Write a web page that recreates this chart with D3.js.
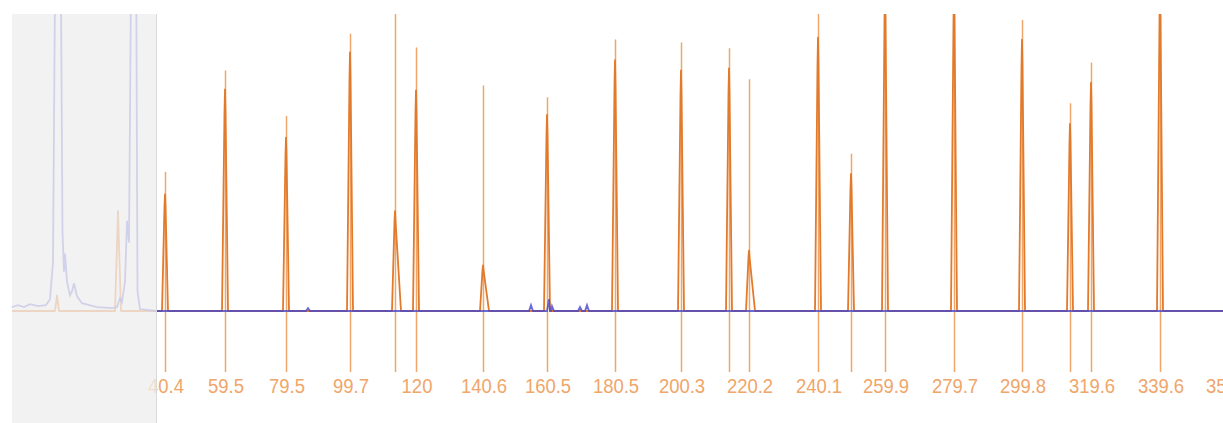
<!DOCTYPE html>
<html>
<head>
<meta charset="utf-8">
<script src="https://cdn.jsdelivr.net/npm/d3@7"></script>
<style>
  html, body { margin: 0; padding: 0; background: #fff; }
  svg { display: block; }
  .size-label { font-family: "Liberation Sans", Arial, sans-serif; font-size: 21px; fill: #efa66a; }
</style>
</head>
<body>
<svg id="chart" width="1223" height="423"></svg>
<script>
// size standard peaks: size (bp), scan position, trace height and marker height (RFU)
const ladderSizes = [40, 60, 80, 100, 114, 120, 140, 160, 180, 200, 214, 220, 240, 250, 260, 280, 300, 314, 320, 340, 360];
const ladderScans = [2306, 2426, 2548, 2676, 2766, 2808, 2942, 3070, 3206, 3338, 3434, 3474, 3612, 3678, 3746, 3884, 4020, 4116, 4158, 4296, 4432];
const peakHeights = [1190, 2260, 1770, 2640, 1020, 2250, 465, 2000, 2560, 2455, 2475, 615, 2790, 1400, 3300, 3300, 2770, 1910, 2330, 3300, 2500];
const markerHeights = [1420, 2455, 1990, 2830, 3300, 2690, 2300, 2180, 2770, 2740, 2680, 2365, 3300, 1605, 3400, 3400, 2970, 2120, 2535, 3400, 2700];
const sizeCalls = ["40.4", "59.5", "79.5", "99.7", "", "120", "140.6", "160.5", "180.5", "200.3", "", "220.2", "240.1", "", "259.9", "279.7", "299.8", "", "319.6", "339.6", "359.5"];
const tailingPeaks = [114, 140, 220];

// small blue peaks inside the sized range
const bluePeakScans = [2592, 3038, 3074, 3080, 3136, 3150];
const bluePeakHeights = [30, 60, 120, 50, 40, 60];

// unsized region on the left (primer peaks)
const leftBlueScans = [2000, 2012, 2024, 2036, 2052, 2068, 2076, 2082, 2087, 2092, 2097, 2101, 2104, 2106, 2110, 2116, 2120, 2124, 2130, 2140, 2170, 2200, 2210, 2216, 2220, 2226, 2230, 2234, 2239, 2244, 2248, 2251, 2256, 2288];
const leftBlueRfu = [40, 60, 40, 70, 50, 60, 120, 500, 4000, 6000, 4000, 800, 400, 586, 300, 160, 200, 283, 150, 80, 40, 30, 40, 130, 90, 300, 920, 700, 4000, 6000, 4000, 200, 20, 0];
const leftOrangeScans = [2000, 2086, 2090, 2094, 2206, 2212, 2218, 2288];
const leftOrangeRfu = [0, 0, 160, 0, 0, 1020, 0, 0];

const sizedFromScan = 2288;

const svg = d3.select("#chart");
const width = +svg.attr("width");
const height = +svg.attr("height");
const plotTop = 14;
const tickBottom = 372;

const x = d3.scaleLinear().domain([2000, 4422]).range([12, width]);
const y = d3.scaleLinear().domain([0, 3000]).range([311, plotTop + 3]);

svg.append("clipPath").attr("id", "clip")
  .append("rect")
    .attr("x", 0).attr("y", plotTop)
    .attr("width", width).attr("height", height - plotTop);

const g = svg.append("g").attr("clip-path", "url(#clip)");

const line = d3.line()
  .x(function(d) { return x(d[0]); })
  .y(function(d) { return y(d[1]); });

// marker sticks for every ladder peak, running down to the tick area
g.selectAll(".marker")
  .data(ladderSizes)
  .enter()
  .append("line")
    .attr("class", "marker")
    .attr("x1", function(d, i) { return x(ladderScans[i]) + 0.5; })
    .attr("x2", function(d, i) { return x(ladderScans[i]) + 0.5; })
    .attr("y1", function(d, i) { return y(markerHeights[i]); })
    .attr("y2", tickBottom)
    .attr("stroke", "#f0a66a")
    .attr("stroke-width", 1.5);

// orange (size standard) trace
const orangePts = [];
leftOrangeScans.forEach(function(s, i) { orangePts.push([s, leftOrangeRfu[i]]); });
ladderScans.forEach(function(s, i) {
  const tail = tailingPeaks.indexOf(ladderSizes[i]) >= 0 ? 12 : 6;
  orangePts.push([s - 6, 0], [s - 1, peakHeights[i] * 0.9], [s, peakHeights[i]], [s + 1, peakHeights[i] * 0.9], [s + tail, 0]);
});
orangePts.push([4422, 0]);

// blue trace
const bluePts = [];
leftBlueScans.forEach(function(s, i) { bluePts.push([s, leftBlueRfu[i]]); });
bluePeakScans.forEach(function(s, i) {
  bluePts.push([s - 4, 0], [s, bluePeakHeights[i]], [s + 4, 0]);
});
bluePts.push([4422, 0]);
bluePts.sort(function(a, b) { return a[0] - b[0]; });

g.append("path")
  .attr("d", line(orangePts))
  .attr("fill", "none")
  .attr("stroke", "#e27a2c")
  .attr("stroke-width", 1.8)
  .attr("stroke-linejoin", "round");

g.append("path")
  .attr("d", line(bluePts))
  .attr("fill", "none")
  .attr("stroke", "#4646cc")
  .attr("stroke-width", 1.8)
  .attr("stroke-opacity", 0.8);

// size labels
svg.selectAll(".size-label")
  .data(ladderSizes.filter(function(d, i) { return sizeCalls[i] !== ""; }))
  .enter()
  .append("text")
    .attr("class", "size-label")
    .attr("text-anchor", "middle")
    .attr("transform", function(d) {
      const i = ladderSizes.indexOf(d);
      return "translate(" + (x(ladderScans[i]) + 1) + ",393) scale(0.88,1)";
    })
    .text(function(d) { return sizeCalls[ladderSizes.indexOf(d)]; });

// unsized region shading
svg.append("rect")
  .attr("x", x(2000))
  .attr("y", plotTop)
  .attr("width", x(sizedFromScan) - x(2000))
  .attr("height", height - plotTop)
  .attr("fill", "#eeeeee")
  .attr("fill-opacity", 0.78);

svg.append("line")
  .attr("x1", x(sizedFromScan) + 0.5)
  .attr("x2", x(sizedFromScan) + 0.5)
  .attr("y1", plotTop)
  .attr("y2", height)
  .attr("stroke", "#d9d9d9");
</script>
</body>
</html>
